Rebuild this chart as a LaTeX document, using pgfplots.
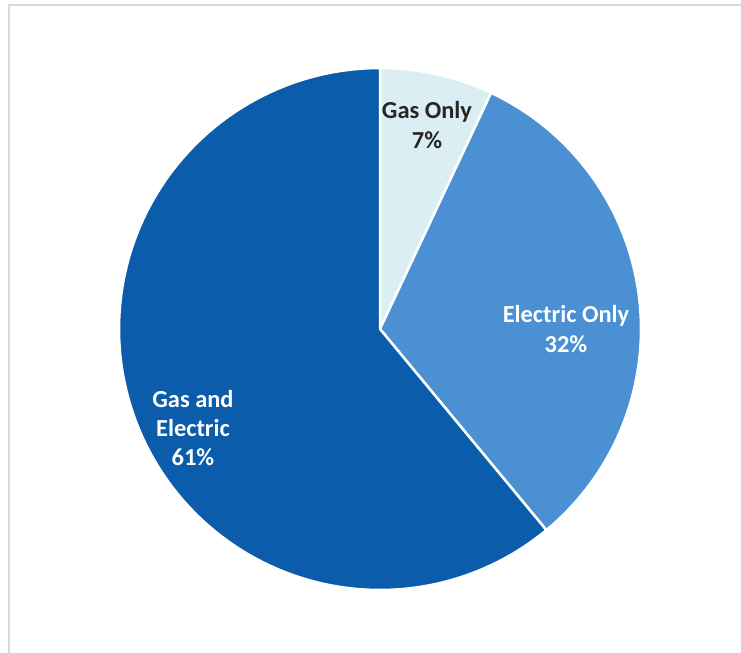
\documentclass[border=0pt]{standalone}
\usepackage{pgfplots}
\pgfplotsset{compat=1.18}
\usepackage{fontspec}
\setmainfont{Carlito}
\definecolor{gasonly}{RGB}{218,238,243}
\definecolor{elonly}{RGB}{74,144,210}
\definecolor{both}{RGB}{11,92,170}
\definecolor{frame}{RGB}{217,217,217}
\begin{document}
\begin{tikzpicture}
\useasboundingbox (0,0) rectangle (741bp,653bp);
% shares in percent
\def\vGas{7}\def\vEl{32}\def\vBoth{61}
\def\cx{380}\def\cy{329}\def\r{261}
\pgfmathsetmacro\aA{90}
\pgfmathsetmacro\aB{90-3.6*\vGas}
\pgfmathsetmacro\aC{\aB-3.6*\vEl}
\pgfmathsetmacro\aD{\aC-3.6*\vBoth}
\begin{axis}[at={(0,0)}, anchor=south west, scale only axis,
  width=741bp, height=653bp, xmin=0, xmax=741, ymin=0, ymax=653,
  y dir=reverse, axis lines=none, clip=false]
\addplot[draw=frame, line width=1.2bp] coordinates {(741,5) (9,5) (9,653)};
\addplot[fill=gasonly, draw=white, line width=2.5bp, line join=round, domain=\aB:\aA, samples=40]
  ({\cx+\r*cos(x)},{\cy-\r*sin(x)}) -- (\cx,\cy) -- cycle;
\addplot[fill=elonly, draw=white, line width=2.5bp, line join=round, domain=\aC:\aB, samples=120]
  ({\cx+\r*cos(x)},{\cy-\r*sin(x)}) -- (\cx,\cy) -- cycle;
\addplot[fill=both, draw=white, line width=2.5bp, line join=round, domain=\aD:\aC, samples=200]
  ({\cx+\r*cos(x)},{\cy-\r*sin(x)}) -- (\cx,\cy) -- cycle;
\node[align=center, text=black!85, font=\bfseries\fontsize{24.5}{29.5}\selectfont] at (axis cs:427,125) {Gas Only\\7\%};
\node[align=center, text=white, font=\bfseries\fontsize{24.5}{29.5}\selectfont] at (axis cs:566,329) {Electric Only\\32\%};
\node[align=center, text=white, font=\bfseries\fontsize{24.5}{29.5}\selectfont] at (axis cs:193,428) {Gas and\\Electric\\61\%};
\end{axis}
\end{tikzpicture}
\end{document}
